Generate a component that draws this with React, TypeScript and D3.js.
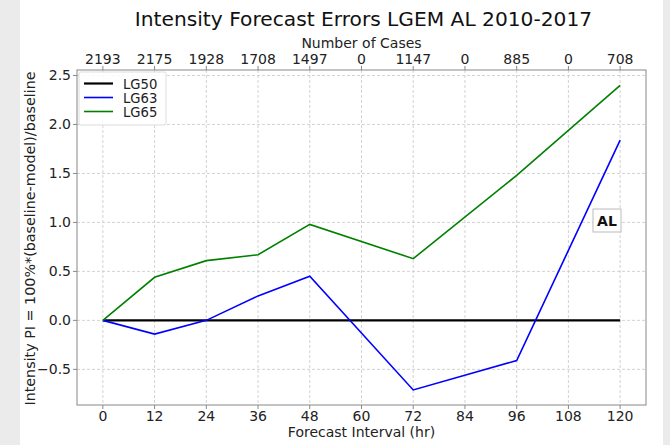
import React from "react";
import * as d3 from "d3";

const hours = [0, 12, 24, 36, 48, 72, 96, 120];
const lg50 = [0, 0, 0, 0, 0, 0, 0, 0];
const lg63 = [0, -0.14, 0.0, 0.25, 0.45, -0.71, -0.41, 1.84];
const lg65 = [0, 0.44, 0.61, 0.67, 0.98, 0.63, 1.48, 2.4];
const xTicks = [0, 12, 24, 36, 48, 60, 72, 84, 96, 108, 120];
const caseLabels = ["2193", "2175", "1928", "1708", "1497", "0", "1147", "0", "885", "0", "708"];
const yTicks = [-0.5, 0, 0.5, 1.0, 1.5, 2.0, 2.5];
const seriesNames = ["LG50", "LG63", "LG65"];
const seriesColors = ["#000000", "#0000ff", "#008000"];

export default function App() {
  const W = 670, H = 445;
  const left = 77, right = 646, top = 70, bottom = 405;
  const x = d3.scaleLinear().domain([-6, 126]).range([left, right]);
  const y = d3.scaleLinear().domain([-0.864, 2.556]).range([bottom, top]);
  const line = d3.line<number>().x((_, i) => x(hours[i])).y((d) => y(d));
  const series = [lg50, lg63, lg65];
  const font = "DejaVu Sans, sans-serif";
  const fmt = (v: number) => (v < 0 ? "\u2212" : "") + Math.abs(v).toFixed(1);
  const fs = 14;
  return (
    <svg width={W} height={H} style={{ position: "absolute", left: 0, top: 0 }} fontFamily={font}>
      <rect x={0} y={0} width={W} height={H} fill="#ffffff" />
      <rect x={0} y={0} width={20} height={H} fill="#ebebeb" />
      <rect x={663} y={0} width={7} height={H} fill="#ebebeb" />
      <text x={(left + right) / 2 + 2} y={26} textAnchor="middle" fontSize={20.2} fill="#111">
        Intensity Forecast Errors LGEM AL 2010-2017
      </text>
      {/* grid */}
      {xTicks.map((t) => (
        <line key={"gx" + t} x1={x(t)} x2={x(t)} y1={top} y2={bottom} stroke="#c8c8c8" strokeDasharray="3,2" strokeWidth={0.8} />
      ))}
      {yTicks.map((t) => (
        <line key={"gy" + t} x1={left} x2={right} y1={y(t)} y2={y(t)} stroke="#c8c8c8" strokeDasharray="3,2" strokeWidth={0.8} />
      ))}
      {/* series */}
      {series.map((s, i) => (
        <path key={i} d={line(s) || ""} fill="none" stroke={seriesColors[i]} strokeWidth={i === 0 ? 2.2 : 1.6} />
      ))}
      {/* frame */}
      <rect x={left} y={top} width={right - left} height={bottom - top} fill="none" stroke="#888" strokeWidth={1} />
      {/* bottom ticks */}
      {xTicks.map((t) => (
        <g key={"bx" + t}>
          <line x1={x(t)} x2={x(t)} y1={bottom} y2={bottom + 4} stroke="#888" />
          <text x={x(t)} y={bottom + 16} textAnchor="middle" fontSize={fs} fill="#222">{t}</text>
        </g>
      ))}
      {/* top ticks */}
      {xTicks.map((t, i) => (
        <g key={"tx" + t}>
          <line x1={x(t)} x2={x(t)} y1={top} y2={top - 4} stroke="#888" />
          <text x={x(t)} y={top - 6} textAnchor="middle" fontSize={fs} fill="#222">{caseLabels[i]}</text>
        </g>
      ))}
      <text x={(left + right) / 2} y={48} textAnchor="middle" fontSize={fs} fill="#222">Number of Cases</text>
      {/* y ticks */}
      {yTicks.map((t) => (
        <g key={"ty" + t}>
          <line x1={left} x2={left - 4} y1={y(t)} y2={y(t)} stroke="#888" />
          <text x={left - 6} y={y(t) + 5} textAnchor="end" fontSize={fs} fill="#222">{fmt(t)}</text>
        </g>
      ))}
      <text x={(left + right) / 2} y={437} textAnchor="middle" fontSize={fs} fill="#222">Forecast Interval (hr)</text>
      <text transform={`translate(35,${(top + bottom) / 2 + 1}) rotate(-90)`} textAnchor="middle" fontSize={14.3} fill="#222">
        Intensity PI = 100%*(baseline-model)/baseline
      </text>
      {/* legend */}
      <rect x={79} y={72} width={87} height={53} fill="#ffffff" fillOpacity={0.85} stroke="#dddddd" rx={2} />
      {seriesNames.map((n, i) => (
        <g key={n}>
          <line x1={84} x2={113} y1={83.5 + i * 14} y2={83.5 + i * 14} stroke={seriesColors[i]} strokeWidth={i === 0 ? 2.2 : 1.6} />
          <text x={123} y={83.5 + i * 14 + 5} fontSize={13.2} fill="#222">{n}</text>
        </g>
      ))}
      {/* AL box */}
      <rect x={593} y={209} width={28} height={23} fill="#ffffff" stroke="#bbbbbb" />
      <text x={607} y={225.5} textAnchor="middle" fontSize={14} fontWeight="bold" fill="#111">AL</text>
    </svg>
  );
}
